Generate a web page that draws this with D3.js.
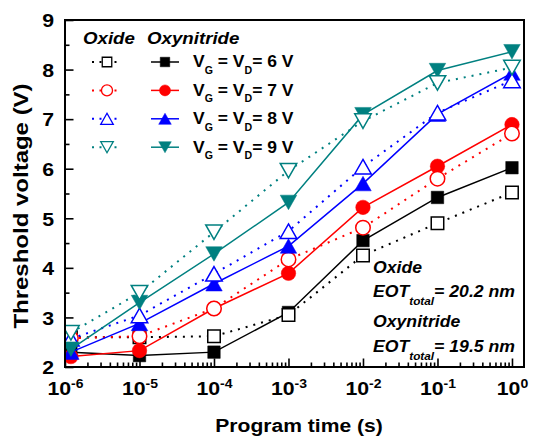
<!DOCTYPE html>
<html>
<head>
<meta charset="utf-8">
<script src="https://cdn.jsdelivr.net/npm/d3@7"></script>
<style>
  html, body { margin: 0; padding: 0; background: #fff; }
  svg { display: block; }
  text { font-family: "Liberation Sans", Arial, Helvetica, sans-serif; font-weight: bold; fill: #000; }
</style>
</head>
<body>
<svg id="chart" width="534" height="441"></svg>
<script>
// Program time (s) for every measured point
const programTimes = [1.2e-6, 1e-5, 1e-4, 1e-3, 1e-2, 1e-1, 1];

// Threshold voltage (V), oxynitride devices
const vthOxynitride6V = [2.30, 2.23, 2.30, 3.10, 4.55, 5.42, 6.02];
const vthOxynitride7V = [2.21, 2.33, 3.18, 3.89, 5.22, 6.05, 6.89];
const vthOxynitride8V = [2.30, 2.88, 3.68, 4.44, 5.70, 7.10, 7.93];
const vthOxynitride9V = [2.36, 3.30, 4.28, 5.32, 7.09, 7.98, 8.36];

// Threshold voltage (V), oxide devices
const vthOxide6V = [2.60, 2.60, 2.62, 3.05, 4.25, 4.90, 5.52];
const vthOxide7V = [2.58, 2.62, 3.18, 4.17, 4.81, 5.80, 6.71];
const vthOxide8V = [2.57, 3.04, 3.88, 4.74, 6.04, 7.13, 7.78];
const vthOxide9V = [2.69, 3.50, 4.72, 5.96, 6.96, 7.73, 8.04];

const biasVoltages = ["6", "7", "8", "9"];
const biasColors = ["#000000", "#ff0000", "#0000ff", "#008080"];
const biasShapes = ["square", "circle", "triangleUp", "triangleDown"];

const xTickExponents = [-6, -5, -4, -3, -2, -1, 0];
const yTickValues = [2, 3, 4, 5, 6, 7, 8, 9];
const yMinorValues = [2.5, 3.5, 4.5, 5.5, 6.5, 7.5, 8.5];

const annotationLines = [
  { head: "Oxide" },
  { eot: "20.2 nm" },
  { head: "Oxynitride" },
  { eot: "19.5 nm" }
];

// ---------- layout ----------
const svg = d3.select("#chart");
const plot = { left: 65, right: 524, top: 20, bottom: 367 };

const x = d3.scaleLog().domain([1e-6, 1.45]).range([plot.left, plot.right]);
const y = d3.scaleLinear().domain([2, 9]).range([plot.bottom, plot.top]);

// ---------- marker shapes (centred on their bounding box) ----------
const shapeTypes = {
  square: {
    draw(ctx, size) { const s = Math.sqrt(size) / 2; ctx.rect(-s, -s, 2 * s, 2 * s); }
  },
  circle: {
    draw(ctx, size) { const r = Math.sqrt(size / Math.PI); ctx.moveTo(r, 0); ctx.arc(0, 0, r, 0, 2 * Math.PI); }
  },
  triangleUp: {
    draw(ctx, size) {
      const w = Math.sqrt(size * 2 / 0.88), h = w * 0.88;
      ctx.moveTo(0, -h / 2); ctx.lineTo(w / 2, h / 2); ctx.lineTo(-w / 2, h / 2); ctx.closePath();
    }
  },
  triangleDown: {
    draw(ctx, size) {
      const w = Math.sqrt(size * 2 / 0.88), h = w * 0.88;
      ctx.moveTo(0, h / 2); ctx.lineTo(w / 2, -h / 2); ctx.lineTo(-w / 2, -h / 2); ctx.closePath();
    }
  }
};
const shapeSize = { square: 156, circle: 165, triangleUp: 120, triangleDown: 120 };
const legendScale = 0.58;

function symbolPath(shape, scale) {
  return d3.symbol().type(shapeTypes[shape]).size(shapeSize[shape] * (scale || 1))();
}

// ---------- stretched text helper ----------
function placeText(parent, x0, y0, stretch, opts) {
  const t = parent.append("text")
    .attr("transform", `translate(${x0},${y0}) scale(${stretch},1)`)
    .style("font-size", opts.size + "px");
  if (opts.anchor) t.attr("text-anchor", opts.anchor);
  if (opts.italic) t.style("font-style", "italic");
  return t;
}

// ---------- axes ----------
const majorTimes = xTickExponents.map(e => Math.pow(10, e));
const minorTimes = [];
xTickExponents.forEach(e => { for (let k = 2; k <= 9; k++) { const v = k * Math.pow(10, e); if (v <= 1.45) minorTimes.push(v); } });

const xMinorAxis = d3.axisBottom(x).tickValues(minorTimes).tickSizeInner(-4.5).tickSizeOuter(0).tickFormat("");
const xMajorAxis = d3.axisBottom(x).tickValues(majorTimes).tickSizeInner(-8.5).tickSizeOuter(0);
const yMinorAxis = d3.axisLeft(y).tickValues(yMinorValues).tickSizeInner(-4.5).tickSizeOuter(0).tickFormat("");
const yMajorAxis = d3.axisLeft(y).tickValues(yTickValues).tickSizeInner(-8.5).tickSizeOuter(0).tickFormat(d3.format("d"));

function styleAxis(g) {
  g.select(".domain").remove();
  g.selectAll(".tick line").attr("stroke", "#000").attr("stroke-width", 1.6);
}

svg.append("g").attr("transform", `translate(0,${plot.bottom})`).call(xMinorAxis).call(styleAxis);
const xAxisG = svg.append("g").attr("transform", `translate(0,${plot.bottom})`).call(xMajorAxis).call(styleAxis);
svg.append("g").attr("transform", `translate(${plot.left},0)`).call(yMinorAxis).call(styleAxis);
const yAxisG = svg.append("g").attr("transform", `translate(${plot.left},0)`).call(yMajorAxis).call(styleAxis);

// power-of-ten tick labels
xAxisG.selectAll(".tick text").each(function (d) {
  const t = d3.select(this);
  const exp = Math.round(Math.log10(d));
  t.text(null).attr("y", null).attr("dy", null)
    .attr("fill", "#000")
    .attr("transform", "translate(0,28) scale(1.12,1)")
    .style("font-size", "19px")
    .style("font-family", "'Liberation Sans', Arial, sans-serif")
    .style("font-weight", "bold");
  t.append("tspan").text("10");
  t.append("tspan").attr("dy", -7.5).style("font-size", "12.5px").text(String(exp));
});

yAxisG.selectAll(".tick text")
  .attr("x", null).attr("dy", "0.36em").attr("fill", "#000")
  .attr("transform", "translate(-11,0) scale(1.12,1)")
  .style("font-size", "19px")
  .style("font-family", "'Liberation Sans', Arial, sans-serif")
  .style("font-weight", "bold");

// ---------- data ----------
svg.append("clipPath").attr("id", "plot-clip")
  .append("rect").attr("x", plot.left + 1).attr("y", plot.top + 1)
  .attr("width", plot.right - plot.left - 2).attr("height", plot.bottom - plot.top - 2);

const dataG = svg.append("g").attr("clip-path", "url(#plot-clip)");

const oxynitrideSeries = [vthOxynitride6V, vthOxynitride7V, vthOxynitride8V, vthOxynitride9V];
const oxideSeries = [vthOxide6V, vthOxide7V, vthOxide8V, vthOxide9V];

const line = d3.line().x(d => x(d.t)).y(d => y(d.v));

function drawSeries(values, color, shape, filled) {
  const pts = programTimes.map((t, i) => ({ t, v: values[i] }));
  const g = dataG.append("g");
  g.append("path").datum(pts).attr("d", line)
    .attr("fill", "none").attr("stroke", color)
    .attr("stroke-width", filled ? 1.5 : 2)
    .attr("stroke-dasharray", filled ? null : "2,6");
  g.selectAll("path.mark").data(pts).join("path").attr("class", "mark")
    .attr("transform", d => `translate(${x(d.t)},${y(d.v)})`)
    .attr("d", symbolPath(shape))
    .attr("fill", filled ? color : "#fff")
    .attr("stroke", color)
    .attr("stroke-width", filled ? 0.5 : 1.5);
}

biasVoltages.forEach((b, i) => {
  drawSeries(oxynitrideSeries[i], biasColors[i], biasShapes[i], true);
  drawSeries(oxideSeries[i], biasColors[i], biasShapes[i], false);
});

// ---------- frame ----------
svg.append("rect")
  .attr("x", plot.left).attr("y", plot.top)
  .attr("width", plot.right - plot.left).attr("height", plot.bottom - plot.top)
  .attr("fill", "none").attr("stroke", "#000").attr("stroke-width", 2);

// ---------- axis titles ----------
placeText(svg, 299, 432, 1.11, { size: 19, anchor: "middle" }).text("Program time (s)");
svg.append("text")
  .attr("transform", "translate(28,206) rotate(-90) scale(1.2,1)")
  .attr("text-anchor", "middle")
  .style("font-size", "20px")
  .text("Threshold voltage (V)");

// ---------- legend ----------
const legend = svg.append("g");
placeText(legend, 83, 44, 1.1, { size: 17, italic: true }).text("Oxide");
placeText(legend, 147, 44, 1.1, { size: 17, italic: true }).text("Oxynitride");

const legendRows = [62, 90.4, 118.8, 147.2];
biasVoltages.forEach((b, i) => {
  const cy = legendRows[i];
  const c = biasColors[i];
  legend.append("line").attr("x1", 92).attr("x2", 118).attr("y1", cy).attr("y2", cy)
    .attr("stroke", c).attr("stroke-width", 2).attr("stroke-dasharray", "2,5.5");
  legend.append("path").attr("transform", `translate(107,${cy})`)
    .attr("d", symbolPath(biasShapes[i], legendScale))
    .attr("fill", "#fff").attr("stroke", c).attr("stroke-width", 1.3);
  legend.append("line").attr("x1", 151).attr("x2", 179).attr("y1", cy).attr("y2", cy)
    .attr("stroke", c).attr("stroke-width", 1.5);
  legend.append("path").attr("transform", `translate(165,${cy})`)
    .attr("d", symbolPath(biasShapes[i], legendScale))
    .attr("fill", c).attr("stroke", c).attr("stroke-width", 0.5);

  const t = placeText(legend, 193, cy + 5.3, 1.06, { size: 16.5 });
  t.append("tspan").text("V");
  t.append("tspan").attr("dy", 6.5).style("font-size", "10px").text("G");
  t.append("tspan").attr("dy", -6.5).text(" = V");
  t.append("tspan").attr("dy", 6.5).style("font-size", "10px").text("D");
  t.append("tspan").attr("dy", -6.5).text("= " + b + " V");
});

// ---------- EOT annotation ----------
const annotBaselines = [273, 297, 327, 352];
annotationLines.forEach((a, i) => {
  const t = placeText(svg, 373, annotBaselines[i], 1.07, { size: 16.5, italic: true });
  if (a.head) {
    t.text(a.head);
  } else {
    t.append("tspan").text("EOT");
    t.append("tspan").attr("dy", 8).style("font-size", "11px").text("total");
    t.append("tspan").attr("dy", -8).text("= " + a.eot);
  }
});
</script>
</body>
</html>
